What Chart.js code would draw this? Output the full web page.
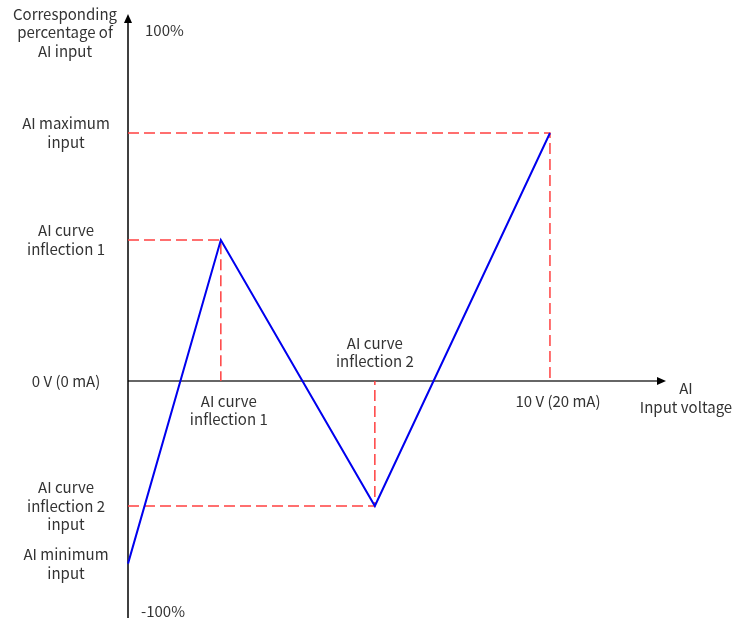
<!DOCTYPE html>
<html>
<head>
<meta charset="utf-8">
<script src="https://cdn.jsdelivr.net/npm/chart.js@4.4.1/dist/chart.umd.min.js"></script>
<style>
  html, body { margin: 0; padding: 0; background: #fff; }
  #c { display: block; }
</style>
</head>
<body>
<canvas id="c" width="736" height="624"></canvas>
<script>
// curve points: AI minimum, inflection 1, inflection 2, AI maximum
const voltage = [0, 2.2, 5.85, 10];
const percent = [-52, 40.2, -35.6, 70.7];

// axis extents (x: volts, y: percent)
const xRange = [0, 12.75];
const yRange = [-67.5, 104.6];

const yLabels = [
  { v: 100, lines: ['100%'], side: 'right' },
  { v: -100, lines: ['-100%'], side: 'right' },
  { v: percent[3], lines: ['AI maximum', 'input'] },
  { v: percent[1], lines: ['AI curve', 'inflection 1'] },
  { v: 0, lines: ['0 V (0 mA)'] },
  { v: percent[2], lines: ['AI curve', 'inflection 2', 'input'] },
  { v: percent[0], lines: ['AI minimum', 'input'] }
];
const xLabels = [
  { v: voltage[1], lines: ['AI curve', 'inflection 1'], below: true },
  { v: voltage[2], lines: ['AI curve', 'inflection 2'], below: false },
  { v: voltage[3], lines: ['10 V (20 mA)'], below: true }
];

const curve = voltage.map((x, i) => ({ x: x, y: percent[i] }));

function guide(i) {
  return [{ x: 0, y: percent[i] }, { x: voltage[i], y: percent[i] }, { x: voltage[i], y: 0 }];
}

const dashStyle = {
  borderColor: '#ff4040',
  borderWidth: 1.5,
  borderDash: [11, 5],
  pointRadius: 0,
  showLine: true,
  fill: false,
  tension: 0,
  clip: false
};

const axesPlugin = {
  id: 'axes',
  beforeDatasetsDraw(chart) {
    const ctx = chart.ctx;
    const xs = chart.scales.x, ys = chart.scales.y;
    const x0 = xs.getPixelForValue(0), y0 = ys.getPixelForValue(0);
    const top = chart.chartArea.top, bottom = chart.chartArea.bottom, right = chart.chartArea.right;
    ctx.save();
    // horizontal axis
    ctx.strokeStyle = '#666';
    ctx.lineWidth = 2;
    ctx.beginPath();
    ctx.moveTo(x0, y0);
    ctx.lineTo(right - 6, y0);
    ctx.stroke();
    ctx.fillStyle = '#000';
    ctx.beginPath();
    ctx.moveTo(right, y0);
    ctx.lineTo(right - 9, y0 - 4);
    ctx.lineTo(right - 9, y0 + 4);
    ctx.closePath();
    ctx.fill();
    // vertical axis
    ctx.strokeStyle = '#000';
    ctx.lineWidth = 1.5;
    ctx.beginPath();
    ctx.moveTo(x0, bottom);
    ctx.lineTo(x0, top + 6);
    ctx.stroke();
    ctx.beginPath();
    ctx.moveTo(x0, top);
    ctx.lineTo(x0 - 4, top + 9);
    ctx.lineTo(x0 + 4, top + 9);
    ctx.closePath();
    ctx.fill();
    ctx.restore();
  },
  afterDraw(chart) {
    const ctx = chart.ctx;
    const xs = chart.scales.x, ys = chart.scales.y;
    const x0 = xs.getPixelForValue(0), y0 = ys.getPixelForValue(0);
    const lh = 18.5;
    ctx.save();
    ctx.font = '15px "Noto Sans CJK SC", "Noto Sans", sans-serif';
    ctx.fillStyle = '#333';
    ctx.textBaseline = 'middle';

    // y axis title
    ctx.textAlign = 'center';
    ['Corresponding', 'percentage of', 'AI input'].forEach((t, k) => ctx.fillText(t, 65, 14 + k * lh));

    yLabels.forEach(l => {
      let py = ys.getPixelForValue(l.v);
      if (l.side === 'right') {
        py = Math.max(30, Math.min(py, 611));
        ctx.textAlign = 'left';
        ctx.fillText(l.lines[0], x0 + (l.v > 0 ? 17 : 13), py);
        return;
      }
      ctx.textAlign = 'center';
      const start = py - (l.lines.length - 1) * lh / 2;
      l.lines.forEach((t, k) => ctx.fillText(t, 66, start + k * lh));
    });

    xLabels.forEach(l => {
      const px = xs.getPixelForValue(l.v);
      ctx.textAlign = 'center';
      l.lines.forEach((t, k) => {
        const py = l.below ? y0 + 20 + k * lh : y0 - 38 + k * lh;
        ctx.fillText(t, px + (l.below ? 8 : 0), py);
      });
    });

    // x axis title
    ctx.textAlign = 'center';
    ctx.fillText('AI', 686, y0 + 7);
    ctx.fillText('Input voltage', 686, y0 + 26);
    ctx.restore();
  }
};

new Chart(document.getElementById('c'), {
  type: 'scatter',
  data: {
    datasets: [
      {
        data: curve,
        borderColor: '#0000ee',
        borderWidth: 2,
        pointRadius: 0,
        showLine: true,
        fill: false,
        tension: 0,
        clip: false
      },
      Object.assign({ data: guide(3) }, dashStyle),
      Object.assign({ data: guide(1) }, dashStyle),
      Object.assign({ data: guide(2) }, dashStyle)
    ]
  },
  options: {
    responsive: false,
    animation: false,
    layout: { padding: { left: 128, right: 70, top: 14, bottom: 6 } },
    scales: {
      x: { type: 'linear', min: xRange[0], max: xRange[1], display: false },
      y: { type: 'linear', min: yRange[0], max: yRange[1], display: false }
    },
    plugins: {
      legend: { display: false },
      tooltip: { enabled: false }
    }
  },
  plugins: [axesPlugin]
});
</script>
</body>
</html>
